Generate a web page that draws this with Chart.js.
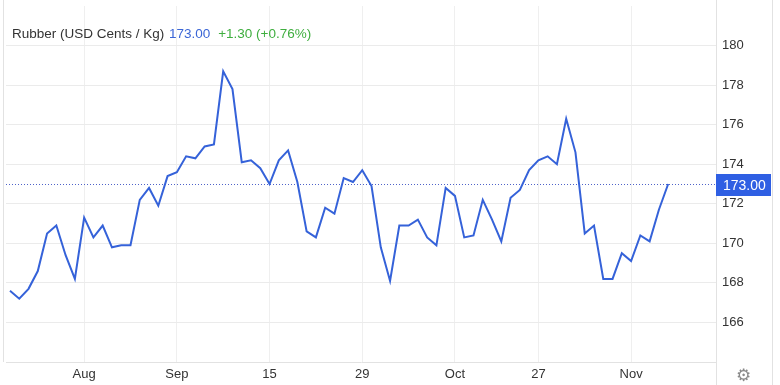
<!DOCTYPE html>
<html>
<head>
<meta charset="utf-8">
<script src="https://cdn.jsdelivr.net/npm/chart.js@4.4.1/dist/chart.umd.min.js"></script>
<style>
  html, body { margin: 0; padding: 0; background: #fff; }
  #wrap { position: relative; width: 780px; height: 385px; font-family: Arial, 'Liberation Sans', sans-serif; }
  #head { position: absolute; left: 12px; top: 26px; font-size: 13.5px; color: #333; white-space: nowrap; }
  #head .last { color: #3b66d6; margin-left: 1px; }
  #head .chg { color: #3fae3f; margin-left: 4px; }
  #gear { position: absolute; left: 736px; top: 365px; font-size: 17px; color: #8a8a8a; font-family: 'DejaVu Sans', sans-serif; }
</style>
</head>
<body>
<div id="wrap">
  <canvas id="chart" width="780" height="385"></canvas>
  <div id="head">Rubber (USD Cents / Kg) <span class="last">173.00</span> <span class="chg">+1.30 (+0.76%)</span></div>
  <div id="gear">⚙</div>
</div>
<script>
// daily closes
const prices = [
  167.6, 167.2, 167.7, 168.6, 170.5, 170.9, 169.4, 168.2, 171.3, 170.3,
  170.9, 169.8, 169.9, 169.9, 172.2, 172.8, 171.9, 173.4, 173.6, 174.4,
  174.3, 174.9, 175.0, 178.7, 177.8, 174.1, 174.2, 173.8, 173.0, 174.2,
  174.7, 173.1, 170.6, 170.3, 171.8, 171.5, 173.3, 173.1, 173.7, 172.9,
  169.8, 168.1, 170.9, 170.9, 171.2, 170.3, 169.9, 172.8, 172.4, 170.3,
  170.4, 172.2, 171.2, 170.1, 172.3, 172.7, 173.7, 174.2, 174.4, 174.0,
  176.3, 174.6, 170.5, 170.9, 168.2, 168.2, 169.5, 169.1, 170.4, 170.1,
  171.7, 173.0
];
const tickIndex = [8, 18, 28, 38, 48, 57, 67];
const tickLabels = ['Aug', 'Sep', '15', '29', 'Oct', '27', 'Nov'];
const yTicks = [166, 168, 170, 172, 174, 176, 178, 180];
const lastPrice = 173.00;

const points = prices.map((v, i) => ({ x: i, y: v }));

const noPad = s => { s.paddingTop = 0; s.paddingBottom = 0; s.paddingLeft = 0; s.paddingRight = 0; };

const extras = {
  id: 'extras',
  beforeDatasetsDraw(chart) {
    const { ctx, chartArea } = chart;
    const y = Math.round(chart.scales.y.getPixelForValue(lastPrice)) + 0.5;
    ctx.save();
    ctx.strokeStyle = '#4f63c9';
    ctx.lineWidth = 1;
    ctx.setLineDash([1, 2]);
    ctx.beginPath();
    ctx.moveTo(chartArea.left, y);
    ctx.lineTo(chartArea.right, y);
    ctx.stroke();
    ctx.restore();
  },
  afterDraw(chart) {
    const { ctx, chartArea } = chart;
    ctx.save();
    ctx.strokeStyle = '#e2e2e2';
    ctx.lineWidth = 1;
    ctx.beginPath();
    ctx.moveTo(chartArea.left - 2.5, 0); ctx.lineTo(chartArea.left - 2.5, chartArea.bottom);
    ctx.moveTo(chartArea.right + 0.5, 0); ctx.lineTo(chartArea.right + 0.5, 385);
    ctx.moveTo(772.5, 0); ctx.lineTo(772.5, 385);
    ctx.stroke();

    // last price tag on the axis
    const y = chart.scales.y.getPixelForValue(lastPrice);
    ctx.fillStyle = '#2f5fe3';
    ctx.fillRect(chartArea.right, y - 10, 55, 22);
    ctx.fillStyle = '#fff';
    ctx.font = '14px Arial, "Liberation Sans", sans-serif';
    ctx.textBaseline = 'middle';
    ctx.fillText(lastPrice.toFixed(2), chartArea.right + 7, y + 2);
    ctx.restore();
  }
};

new Chart(document.getElementById('chart'), {
  type: 'line',
  data: {
    datasets: [{
      data: points,
      borderColor: '#3562d9',
      borderWidth: 2,
      pointRadius: 0,
      tension: 0,
      fill: false
    }]
  },
  options: {
    responsive: false,
    animation: false,
    devicePixelRatio: 1,
    layout: { padding: { left: 6, top: 6, right: 0, bottom: 0 } },
    plugins: { legend: { display: false }, tooltip: { enabled: false } },
    scales: {
      x: {
        type: 'linear',
        min: -0.43,
        max: 76.16,
        afterBuildTicks: s => { s.ticks = tickIndex.map(v => ({ value: v })); },
        afterFit: s => { s.height = 23; noPad(s); },
        ticks: {
          autoSkip: false,
          maxRotation: 0,
          padding: 5,
          color: '#333',
          font: { size: 13, family: 'Arial, "Liberation Sans", sans-serif' },
          callback: v => tickLabels[tickIndex.indexOf(v)]
        },
        grid: { color: '#efefef', drawTicks: false },
        border: { color: '#e2e2e2' }
      },
      y: {
        position: 'right',
        min: 164,
        max: 182,
        afterBuildTicks: s => { s.ticks = yTicks.map(v => ({ value: v })); },
        afterFit: s => { s.width = 64; noPad(s); },
        ticks: {
          padding: 6,
          color: '#333',
          font: { size: 13, family: 'Arial, "Liberation Sans", sans-serif' }
        },
        grid: { color: '#ebebeb', drawTicks: false },
        border: { display: false }
      }
    }
  },
  plugins: [extras]
});
</script>
</body>
</html>
